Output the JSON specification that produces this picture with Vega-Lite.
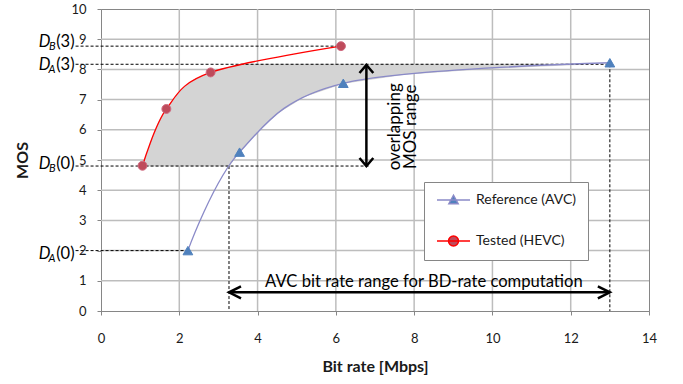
{
  "$schema": "https://vega.github.io/schema/vega-lite/v6.json",
  "width": 548,
  "height": 302,
  "autosize": {"type": "none"},
  "padding": {"left": 101, "top": 9, "right": 34, "bottom": 73},
  "background": "white",
  "config": {
    "font": "Lato",
    "view": {"stroke": "#868686", "strokeWidth": 1},
    "axis": {
      "grid": false,
      "domainColor": "#868686",
      "tickColor": "#868686",
      "tickSize": 4,
      "labelFont": "Lato",
      "labelFontSize": 13,
      "labelColor": "#1a1a1a",
      "labelFlush": false,
      "labelOverlap": false,
      "titleFont": "Lato",
      "titleFontSize": 16,
      "titleFontWeight": "bold",
      "titleColor": "#1a1a1a"
    },
    "axisX": {"tickCount": 7, "labelPadding": 17, "titlePadding": 13},
    "axisY": {"tickCount": 10, "labelPadding": 11, "titlePadding": 40},
    "legend": {
      "orient": "none",
      "legendX": 323,
      "legendY": 173,
      "padding": 11,
      "strokeColor": "#868686",
      "fillColor": "#ffffff",
      "labelFont": "Lato",
      "labelFontSize": 14,
      "labelColor": "#1a1a1a",
      "labelOffset": 27,
      "labelLimit": 300,
      "symbolSize": 100,
      "symbolStrokeWidth": 1.5,
      "symbolOpacity": 1,
      "rowPadding": 26
    }
  },
  "datasets": {
    "grid": [
      {"axis": "x", "v": 2}, {"axis": "x", "v": 4}, {"axis": "x", "v": 6}, {"axis": "x", "v": 8},
      {"axis": "x", "v": 10}, {"axis": "x", "v": 12},
      {"axis": "y", "v": 1}, {"axis": "y", "v": 2}, {"axis": "y", "v": 3}, {"axis": "y", "v": 4},
      {"axis": "y", "v": 5}, {"axis": "y", "v": 6}, {"axis": "y", "v": 7}, {"axis": "y", "v": 8},
      {"axis": "y", "v": 9}
    ],
    "curves": [
      {"series": "Reference (AVC)", "rate": 2.22, "mos": 2.0},
      {"series": "Reference (AVC)", "rate": 3.54, "mos": 5.26},
      {"series": "Reference (AVC)", "rate": 6.19, "mos": 7.54},
      {"series": "Reference (AVC)", "rate": 13.0, "mos": 8.22},
      {"series": "Tested (HEVC)", "rate": 1.06, "mos": 4.81},
      {"series": "Tested (HEVC)", "rate": 1.67, "mos": 6.69},
      {"series": "Tested (HEVC)", "rate": 2.8, "mos": 7.9},
      {"series": "Tested (HEVC)", "rate": 6.13, "mos": 8.77}
    ],
    "area": [
      {"mos": 4.8, "xl": 1.06, "xr": 3.27},
      {"mos": 5.164, "xl": 1.157, "xr": 3.483},
      {"mos": 5.26, "xl": 1.183, "xr": 3.54},
      {"mos": 5.675, "xl": 1.295, "xr": 3.829},
      {"mos": 5.938, "xl": 1.378, "xr": 4.012},
      {"mos": 6.222, "xl": 1.468, "xr": 4.244},
      {"mos": 6.563, "xl": 1.615, "xr": 4.523},
      {"mos": 6.69, "xl": 1.67, "xr": 4.683},
      {"mos": 7.05, "xl": 1.865, "xr": 5.135},
      {"mos": 7.106, "xl": 1.902, "xr": 5.205},
      {"mos": 7.36, "xl": 2.07, "xr": 5.781},
      {"mos": 7.54, "xl": 2.25, "xr": 6.19},
      {"mos": 7.64, "xl": 2.35, "xr": 6.717},
      {"mos": 7.838, "xl": 2.693, "xr": 7.76},
      {"mos": 7.9, "xl": 2.8, "xr": 8.434},
      {"mos": 8.022, "xl": 3.11, "xr": 9.76},
      {"mos": 8.03, "xl": 3.13, "xr": 9.9},
      {"mos": 8.134, "xl": 3.45, "xr": 11.68},
      {"mos": 8.17, "xl": 3.55, "xr": 12.32}
    ],
    "dashed": [
      {"x1": -0.65, "x2": 6.13, "y1": 8.77, "y2": 8.77},
      {"x1": -0.65, "x2": 13.0, "y1": 8.17, "y2": 8.17},
      {"x1": -0.65, "x2": 6.85, "y1": 4.8, "y2": 4.8},
      {"x1": -0.65, "x2": 2.22, "y1": 2.0, "y2": 2.0},
      {"x1": 3.27, "x2": 3.27, "y1": 4.8, "y2": 0},
      {"x1": 13.0, "x2": 13.0, "y1": 8.17, "y2": 0}
    ],
    "arrows": [
      {"name": "mos", "xa": 6.78, "ya": 4.8, "xb": 6.78, "yb": 8.15},
      {"name": "avc", "xa": 3.27, "ya": 0.62, "xb": 13.0, "yb": 0.62}
    ],
    "dlabels": [
      {"sub": "B", "arg": "(3)", "base": 8.75},
      {"sub": "A", "arg": "(3)", "base": 7.98},
      {"sub": "B", "arg": "(0)", "base": 4.69},
      {"sub": "A", "arg": "(0)", "base": 1.72}
    ],
    "notes": [
      {"kind": "mos", "label": "overlapping\nMOS range", "x": 7.51, "y": 6.1},
      {"kind": "avc", "label": "AVC bit rate range for BD-rate computation", "x": 8.25, "y": 0.97}
    ]
  },
  "encoding": {
    "x": {"type": "quantitative", "title": "Bit rate [Mbps]", "scale": {"domain": [0, 14], "nice": false, "zero": false}, "axis": {"grid": false, "tickCount": 7}},
    "y": {"type": "quantitative", "title": "MOS", "scale": {"domain": [0, 10], "nice": false, "zero": false}, "axis": {"grid": false, "tickCount": 10}}
  },
  "layer": [
    {
      "data": {"name": "grid"},
      "transform": [{"filter": "datum.axis === 'x'"}],
      "mark": {"type": "rule", "color": "#BDBDBD", "strokeWidth": 1.5},
      "encoding": {"x": {"field": "v"}}
    },
    {
      "data": {"name": "grid"},
      "transform": [{"filter": "datum.axis === 'y'"}],
      "mark": {"type": "rule", "color": "#BDBDBD", "strokeWidth": 1.5},
      "encoding": {"y": {"field": "v"}}
    },
    {
      "data": {"name": "area"},
      "mark": {"type": "area", "orient": "horizontal", "interpolate": "linear", "color": "#D4D4D4", "stroke": "#BDBDBD", "strokeWidth": 0.6},
      "encoding": {
        "y": {"field": "mos"},
        "x": {"field": "xl"},
        "x2": {"field": "xr"}
      }
    },
    {
      "data": {"name": "dashed"},
      "mark": {"type": "rule", "color": "#000000", "strokeWidth": 1, "strokeDash": [3, 2]},
      "encoding": {
        "x": {"field": "x1"},
        "x2": {"field": "x2"},
        "y": {"field": "y1"},
        "y2": {"field": "y2"}
      }
    },
    {
      "data": {"name": "curves"},
      "transform": [{"filter": "datum.series === 'Reference (AVC)'"}],
      "mark": {"type": "line", "interpolate": "cardinal", "color": "#8A8AC8", "strokeWidth": 1.3},
      "encoding": {"x": {"field": "rate"}, "y": {"field": "mos"}}
    },
    {
      "data": {"name": "curves"},
      "transform": [{"filter": "datum.series === 'Tested (HEVC)'"}],
      "mark": {"type": "line", "interpolate": "cardinal", "color": "#FF0000", "strokeWidth": 1.3},
      "encoding": {"x": {"field": "rate"}, "y": {"field": "mos"}}
    },
    {
      "data": {"name": "curves"},
      "transform": [{"filter": "datum.series === 'Reference (AVC)'"}],
      "mark": {"type": "point", "shape": "triangle-up", "filled": true, "fill": "#4F81BD", "stroke": "#4F81BD", "strokeWidth": 1, "size": 95, "opacity": 1},
      "encoding": {"x": {"field": "rate"}, "y": {"field": "mos"}}
    },
    {
      "data": {"name": "curves"},
      "transform": [{"filter": "datum.series === 'Tested (HEVC)'"}],
      "mark": {"type": "point", "shape": "circle", "filled": true, "fill": "#BE4B5B", "stroke": "#D06A80", "strokeWidth": 1, "size": 80, "opacity": 1},
      "encoding": {"x": {"field": "rate"}, "y": {"field": "mos"}}
    },
    {
      "data": {"name": "arrows"},
      "mark": {"type": "rule", "color": "#000000", "strokeWidth": 2.5},
      "encoding": {
        "x": {"field": "xa"},
        "x2": {"field": "xb"},
        "y": {"field": "ya"},
        "y2": {"field": "yb"}
      }
    },
    {
      "data": {"name": "arrows"},
      "transform": [{"filter": "datum.name === 'mos'"}],
      "mark": {"type": "point", "shape": "M-1.15,1.35L0,0L1.15,1.35", "filled": false, "stroke": "#000000", "strokeWidth": 2.5, "size": 144, "opacity": 1},
      "encoding": {"x": {"field": "xb"}, "y": {"field": "yb"}}
    },
    {
      "data": {"name": "arrows"},
      "transform": [{"filter": "datum.name === 'mos'"}],
      "mark": {"type": "point", "shape": "M-1.15,-1.35L0,0L1.15,-1.35", "filled": false, "stroke": "#000000", "strokeWidth": 2.5, "size": 144, "opacity": 1},
      "encoding": {"x": {"field": "xa"}, "y": {"field": "ya"}}
    },
    {
      "data": {"name": "arrows"},
      "transform": [{"filter": "datum.name === 'avc'"}],
      "mark": {"type": "point", "shape": "M2,-1L0,0L2,1", "filled": false, "stroke": "#000000", "strokeWidth": 2.5, "size": 144, "opacity": 1},
      "encoding": {"x": {"field": "xa"}, "y": {"field": "ya"}}
    },
    {
      "data": {"name": "arrows"},
      "transform": [{"filter": "datum.name === 'avc'"}],
      "mark": {"type": "point", "shape": "M-2,-1L0,0L-2,1", "filled": false, "stroke": "#000000", "strokeWidth": 2.5, "size": 144, "opacity": 1},
      "encoding": {"x": {"field": "xb"}, "y": {"field": "yb"}}
    },
    {
      "data": {"name": "dlabels"},
      "mark": {"type": "text", "text": "D", "align": "right", "baseline": "alphabetic", "dx": -25, "font": "Lato", "fontSize": 16.5, "fontStyle": "italic", "color": "#000000"},
      "encoding": {"x": {"datum": -0.65}, "y": {"field": "base"}}
    },
    {
      "data": {"name": "dlabels"},
      "mark": {"type": "text", "align": "right", "baseline": "alphabetic", "dx": -20, "dy": 3, "font": "Lato", "fontSize": 11, "fontStyle": "italic", "color": "#000000"},
      "encoding": {"x": {"datum": -0.65}, "y": {"field": "base"}, "text": {"field": "sub"}}
    },
    {
      "data": {"name": "dlabels"},
      "mark": {"type": "text", "align": "right", "baseline": "alphabetic", "dx": -1, "font": "Lato", "fontSize": 16.5, "color": "#000000"},
      "encoding": {"x": {"datum": -0.65}, "y": {"field": "base"}, "text": {"field": "arg"}}
    },
    {
      "data": {"name": "notes"},
      "transform": [{"filter": "datum.kind === 'mos'"}],
      "mark": {"type": "text", "angle": 270, "align": "center", "baseline": "middle", "lineBreak": "\n", "lineHeight": 16, "font": "Lato", "fontSize": 17, "color": "#000000"},
      "encoding": {"x": {"field": "x"}, "y": {"field": "y"}, "text": {"field": "label"}}
    },
    {
      "data": {"name": "notes"},
      "transform": [{"filter": "datum.kind === 'avc'"}],
      "mark": {"type": "text", "align": "center", "baseline": "middle", "font": "Lato", "fontSize": 16.6, "color": "#000000"},
      "encoding": {"x": {"field": "x"}, "y": {"field": "y"}, "text": {"field": "label"}}
    },
    {
      "data": {"name": "curves"},
      "mark": {"type": "point", "filled": true, "opacity": 0},
      "encoding": {
        "x": {"field": "rate"},
        "y": {"field": "mos"},
        "shape": {"field": "series", "type": "nominal", "title": null,
                  "scale": {"domain": ["Reference (AVC)", "Tested (HEVC)"],
                            "range": ["M-1,0H5.6M1.37,0.75L2.3,-0.95L3.23,0.75Z", "M-1,0H5.6M1.3,0A1,1 0 1,0 3.3,0A1,1 0 1,0 1.3,0Z"]},
                  "legend": {"title": null}},
        "fill": {"field": "series", "type": "nominal", "title": null,
                 "scale": {"domain": ["Reference (AVC)", "Tested (HEVC)"], "range": ["#4F81BD", "#BE4B5B"]},
                 "legend": {"title": null}},
        "stroke": {"field": "series", "type": "nominal", "title": null,
                   "scale": {"domain": ["Reference (AVC)", "Tested (HEVC)"], "range": ["#8A8AC8", "#FF0000"]},
                   "legend": {"title": null}}
      }
    }
  ]
}
